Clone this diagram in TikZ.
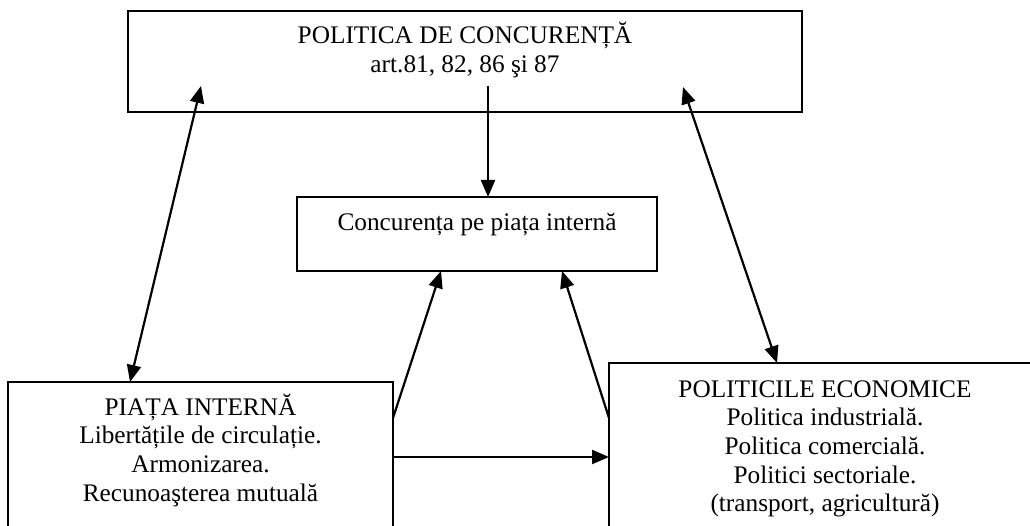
\documentclass[tikz,border=0pt]{standalone}
\usepackage{fontspec}
\setmainfont{Liberation Serif}
\usetikzlibrary{arrows.meta}
\tikzset{
  box/.style={draw, line width=2pt, rectangle, inner sep=0pt},
  lbl/.style={anchor=base, inner sep=0pt, font=\fontsize{25.3}{28.7}\selectfont},
  tip/.style={Triangle[length=17pt,width=14pt]},
  conn/.style={line width=2.2pt, -{Triangle[length=17pt,width=14pt]}},
  dconn/.style={line width=2.2pt, {Triangle[length=17pt,width=14pt]}-{Triangle[length=17pt,width=14pt]}}
}
\begin{document}
\begin{tikzpicture}[x=1pt,y=-1pt]
\useasboundingbox (0,0) rectangle (1030,526);
\clip (0,0) rectangle (1030,526);
\fill[white] (0,0) rectangle (1030,526);
% boxes
\node[box, minimum width=674pt, minimum height=101pt] (top) at (465,61.5) {};
\node[box, minimum width=360pt, minimum height=74pt] (mid) at (477,234) {};
\node[box, minimum width=385pt, minimum height=170pt] (left) at (200.5,467) {};
\node[box, minimum width=432pt, minimum height=190pt] (right) at (825,458) {};
% texts
\node[lbl] (t1) at (465,44) {POLITICA DE CONCURENȚĂ};
\node[lbl] (t2) at (465,72.7) {art.81, 82, 86 şi 87};
\node[lbl] (m1) at (477,231) {Concurența pe piața internă};
\node[lbl] (l1) at (200.5,415) {PIAȚA INTERNĂ};
\node[lbl] (l2) at (200.5,443.7) {Libertățile de circulație.};
\node[lbl] (l3) at (200.5,472.4) {Armonizarea.};
\node[lbl] (l4) at (200.5,501) {Recunoaşterea mutuală};
\node[lbl] (r1) at (825,397) {POLITICILE ECONOMICE};
\node[lbl] (r2) at (825,425.7) {Politica industrială.};
\node[lbl] (r3) at (825,454.4) {Politica comercială.};
\node[lbl] (r4) at (825,483) {Politici sectoriale.};
\node[lbl] (r5) at (825,511.8) {(transport, agricultură)};
% connector end points
\coordinate (topS) at (488,86);
\coordinate (midN) at (488,197);
\coordinate (topL) at (201,86);
\coordinate (leftN) at (130,382);
\coordinate (topR) at (683,87);
\coordinate (rightN) at (777,363);
\coordinate (leftE1) at (393,418);
\coordinate (midS1) at (441,271);
\coordinate (rightW1) at (609,418);
\coordinate (midS2) at (562,271);
\coordinate (leftE2) at (393,457);
\coordinate (rightW2) at (609,457);
% connectors
\draw[conn] (topS) -- (midN);
\draw[dconn] (leftN) -- (topL);
\draw[dconn] (rightN) -- (topR);
\draw[conn] (leftE1) -- (midS1);
\draw[conn] (rightW1) -- (midS2);
\draw[conn] (leftE2) -- (rightW2);
\end{tikzpicture}
\end{document}
